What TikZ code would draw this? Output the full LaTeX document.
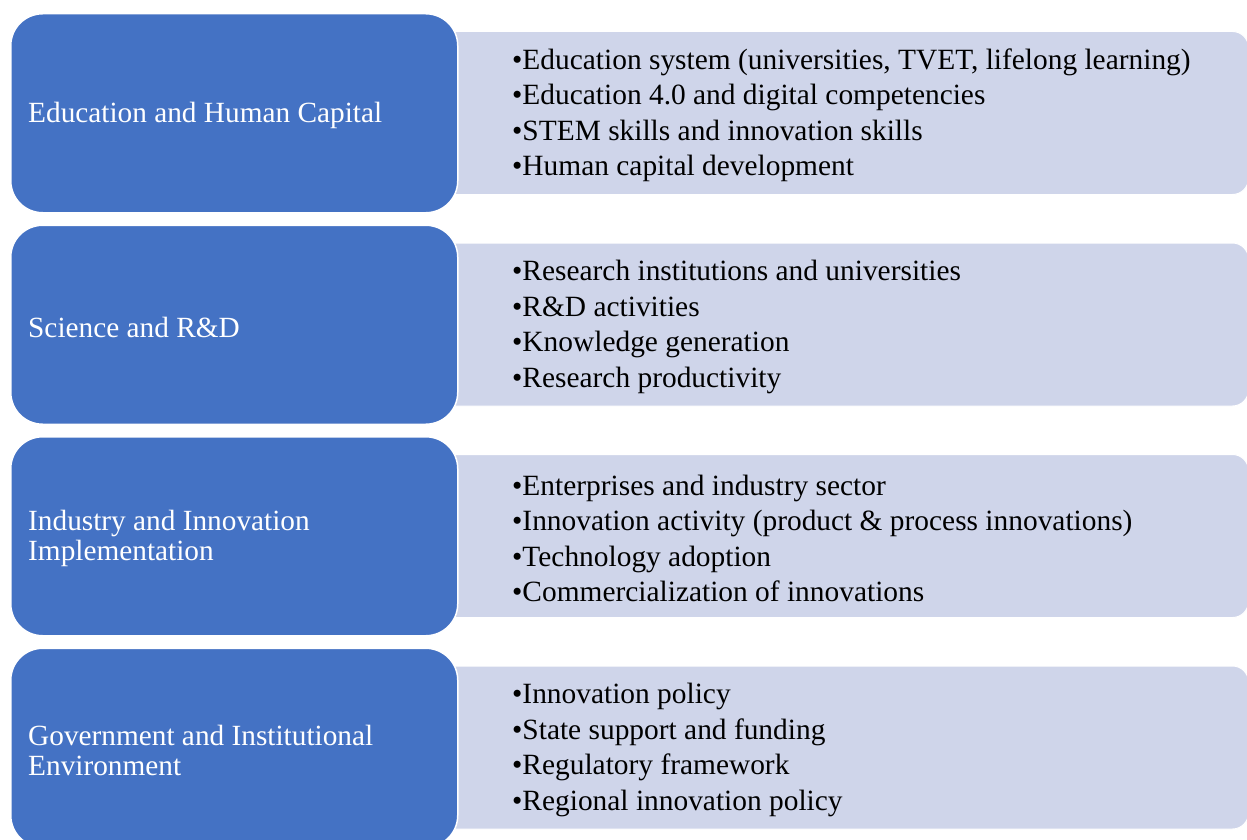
\documentclass[tikz,border=0pt]{standalone}
\usepackage{fontspec}
\setmainfont{Liberation Serif}
\definecolor{mainblue}{HTML}{4472C4}
\definecolor{lightblue}{HTML}{CFD5EA}
\tikzset{
  catbox/.style={draw=white, line width=1.5pt, fill=mainblue, rounded corners=32pt,
    minimum width=447pt, minimum height=199pt, inner sep=0pt, anchor=north west},
  cattext/.style={anchor=west, align=left, inner sep=0pt, text=white,
    font=\fontsize{29.3}{30}\selectfont},
  itembox/.style={draw=white, line width=1pt, fill=lightblue, rounded corners=16pt,
    minimum width=812pt, minimum height=163pt, anchor=north west, inner sep=0pt},
  itemtext/.style={anchor=west, align=left, inner sep=0pt, text=black,
    font=\fontsize{29.4}{35.5}\selectfont}
}
\begin{document}
\begin{tikzpicture}[x=1pt,y=-1pt]
\useasboundingbox (0,0) rectangle (1247,840);
\clip (0,0) rectangle (1247,840);
\fill[white] (0,0) rectangle (1247,840);
% light item boxes
\node[itembox] (l1) at (436,31) {};
\node[itembox] (l2) at (436,242.5) {};
\node[itembox] (l3) at (436,454) {};
\node[itembox] (l4) at (436,665.5) {};
% blue category boxes
\node[catbox] (c1) at (10,13) {};
\node[catbox] (c2) at (10,224.5) {};
\node[catbox] (c3) at (10,436) {};
\node[catbox] (c4) at (10,647.5) {};
\node[cattext] (ct1) at (28,115.5) {Education and Human Capital};
\node[cattext] (ct2) at (28,327) {Science and R\&D};
\node[cattext] (ct3) at (28,538.5) {Industry and Innovation\\Implementation};
\node[cattext] (ct4) at (28,750) {Government and Institutional\\Environment};
% item texts
\node[itemtext] (t1) at (512,115.5) {•Education system (universities, TVET, lifelong learning)\\•Education 4.0 and digital competencies\\•STEM skills and innovation skills\\•Human capital development};
\node[itemtext] (t2) at (512,327) {•Research institutions and universities\\•R\&D activities\\•Knowledge generation\\•Research productivity};
\node[itemtext] (t3) at (512,538.5) {•Enterprises and industry sector\\•Innovation activity (product \& process innovations)\\•Technology adoption\\•Commercialization of innovations};
\node[itemtext] (t4) at (512,750) {•Innovation policy\\•State support and funding\\•Regulatory framework\\•Regional innovation policy};
\end{tikzpicture}
\end{document}
